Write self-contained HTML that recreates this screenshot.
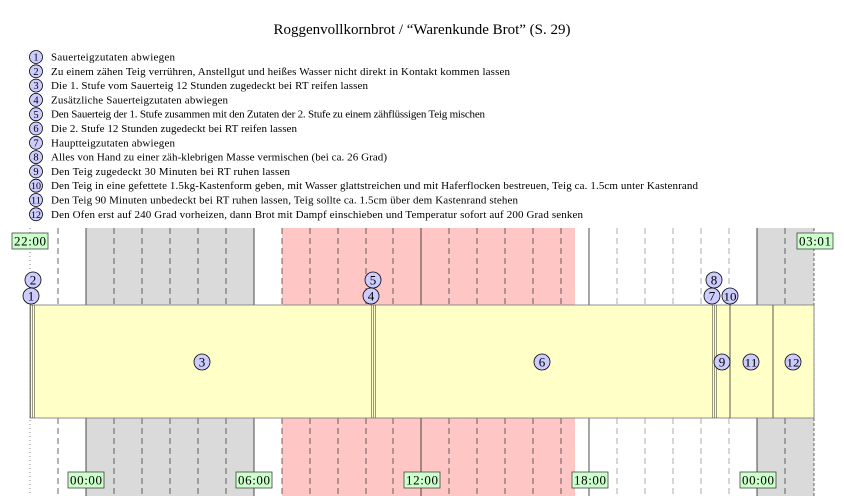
<!DOCTYPE html>
<html><head><meta charset="utf-8"><style>
body{margin:0;background:#fff}
svg{display:block}
text{font-family:"Liberation Serif",serif;fill:#000}
</style></head><body>
<svg width="844" height="496" viewBox="0 0 844 496" xmlns="http://www.w3.org/2000/svg">
<text x="422" y="34" font-size="15" text-anchor="middle">Roggenvollkornbrot / “Warenkunde Brot” (S. 29)</text>
<g font-size="11">
<g fill="#ccccff" stroke="#000" stroke-width="0.8">
<circle cx="36" cy="57" r="6.5"/><circle cx="36" cy="71.3" r="6.5"/><circle cx="36" cy="85.6" r="6.5"/><circle cx="36" cy="99.9" r="6.5"/><circle cx="36" cy="114.2" r="6.5"/><circle cx="36" cy="128.5" r="6.5"/><circle cx="36" cy="142.8" r="6.5"/><circle cx="36" cy="157.1" r="6.5"/><circle cx="36" cy="171.4" r="6.5"/><circle cx="36" cy="185.7" r="6.5"/><circle cx="36" cy="200" r="6.5"/><circle cx="36" cy="214.3" r="6.5"/>
</g>
<g text-anchor="middle" font-size="10.5">
<text x="36" y="60.6">1</text><text x="36" y="74.9">2</text><text x="36" y="89.2">3</text><text x="36" y="103.5">4</text><text x="36" y="117.8">5</text><text x="36" y="132.1">6</text><text x="36" y="146.4">7</text><text x="36" y="160.7">8</text><text x="36" y="175">9</text><text x="36" y="189.2" font-size="9" textLength="10" lengthAdjust="spacingAndGlyphs">10</text><text x="36" y="203.5" font-size="9" textLength="10" lengthAdjust="spacingAndGlyphs">11</text><text x="36" y="217.8" font-size="9" textLength="10" lengthAdjust="spacingAndGlyphs">12</text>
</g>
<text x="51" y="60.5" textLength="124">Sauerteigzutaten abwiegen</text>
<text x="51" y="74.8" textLength="459">Zu einem zähen Teig verrühren, Anstellgut und heißes Wasser nicht direkt in Kontakt kommen lassen</text>
<text x="51" y="89.1" textLength="317">Die 1. Stufe vom Sauerteig 12 Stunden zugedeckt bei RT reifen lassen</text>
<text x="51" y="103.4" textLength="177">Zusätzliche Sauerteigzutaten abwiegen</text>
<text x="51" y="117.7" textLength="434">Den Sauerteig der 1. Stufe zusammen mit den Zutaten der 2. Stufe zu einem zähflüssigen Teig mischen</text>
<text x="51" y="132" textLength="246">Die 2. Stufe 12 Stunden zugedeckt bei RT reifen lassen</text>
<text x="51" y="146.3" textLength="124">Hauptteigzutaten abwiegen</text>
<text x="51" y="160.6" textLength="336">Alles von Hand zu einer zäh-klebrigen Masse vermischen (bei ca. 26 Grad)</text>
<text x="51" y="174.9" textLength="239">Den Teig zugedeckt 30 Minuten bei RT ruhen lassen</text>
<text x="51" y="189.2" textLength="647">Den Teig in eine gefettete 1.5kg-Kastenform geben, mit Wasser glattstreichen und mit Haferflocken bestreuen, Teig ca. 1.5cm unter Kastenrand</text>
<text x="51" y="203.5" textLength="467">Den Teig 90 Minuten unbedeckt bei RT ruhen lassen, Teig sollte ca. 1.5cm über dem Kastenrand stehen</text>
<text x="51" y="217.8" textLength="532">Den Ofen erst auf 240 Grad vorheizen, dann Brot mit Dampf einschieben und Temperatur sofort auf 200 Grad senken</text>
</g>
<!-- backgrounds -->
<rect x="86" y="228" width="168" height="268" fill="#dadada"/>
<rect x="757" y="228" width="57" height="268" fill="#dadada"/>
<rect x="282" y="228" width="293" height="268" fill="#ffc6c6"/>
<!-- lines -->
<g stroke="#444" stroke-width="0.8" stroke-dasharray="6,4">
<line x1="58" y1="228" x2="58" y2="496"/><line x1="114" y1="228" x2="114" y2="496"/><line x1="142" y1="228" x2="142" y2="496"/><line x1="170" y1="228" x2="170" y2="496"/><line x1="198" y1="228" x2="198" y2="496"/><line x1="226" y1="228" x2="226" y2="496"/><line x1="282" y1="228" x2="282" y2="496"/><line x1="310" y1="228" x2="310" y2="496"/><line x1="338" y1="228" x2="338" y2="496"/><line x1="366" y1="228" x2="366" y2="496"/><line x1="393" y1="228" x2="393" y2="496"/><line x1="449" y1="228" x2="449" y2="496"/><line x1="477" y1="228" x2="477" y2="496"/><line x1="505" y1="228" x2="505" y2="496"/><line x1="533" y1="228" x2="533" y2="496"/><line x1="561" y1="228" x2="561" y2="496"/><line x1="617" y1="228" x2="617" y2="496" stroke="#999"/><line x1="645" y1="228" x2="645" y2="496" stroke="#999"/><line x1="673" y1="228" x2="673" y2="496" stroke="#999"/><line x1="701" y1="228" x2="701" y2="496" stroke="#999"/><line x1="729" y1="228" x2="729" y2="496" stroke="#999"/><line x1="785" y1="228" x2="785" y2="496"/><line x1="814" y1="228" x2="814" y2="496" stroke-dasharray="3,2"/>
</g>
<line x1="30" y1="228" x2="30" y2="496" stroke="#666" stroke-width="0.8" stroke-dasharray="1,3"/>
<g stroke="#222" stroke-width="0.8">
<line x1="86" y1="228" x2="86" y2="496"/><line x1="254" y1="228" x2="254" y2="496"/><line x1="421" y1="228" x2="421" y2="496"/><line x1="589" y1="228" x2="589" y2="496"/><line x1="757" y1="228" x2="757" y2="496"/>
</g>
<!-- bar -->
<rect x="30" y="305" width="784" height="113" fill="#ffffc8" stroke="#777" stroke-width="0.8"/>
<g stroke="#333" stroke-width="0.5">
<line x1="30.5" y1="305" x2="30.5" y2="418"/><line x1="32.5" y1="305" x2="32.5" y2="418"/><line x1="34.5" y1="305" x2="34.5" y2="418"/>
<line x1="371.5" y1="305" x2="371.5" y2="418"/><line x1="373.5" y1="305" x2="373.5" y2="418"/><line x1="375.5" y1="305" x2="375.5" y2="418"/>
<line x1="712.5" y1="305" x2="712.5" y2="418"/><line x1="714.5" y1="305" x2="714.5" y2="418"/><line x1="716.5" y1="305" x2="716.5" y2="418"/>
</g>
<g stroke="#333" stroke-width="0.8">
<line x1="730" y1="296" x2="730" y2="418"/><line x1="773" y1="305" x2="773" y2="418"/>
</g>
<!-- circles -->
<g fill="#ccccff" stroke="#000" stroke-width="0.8">
<circle cx="33" cy="280" r="8"/><circle cx="31" cy="296" r="8"/>
<circle cx="373" cy="280" r="8"/><circle cx="371" cy="296" r="8"/>
<circle cx="714" cy="280" r="8"/><circle cx="712" cy="296" r="8"/><circle cx="730" cy="296" r="8"/>
<circle cx="202" cy="362" r="8"/><circle cx="542" cy="362" r="8"/><circle cx="722" cy="362" r="8"/><circle cx="751" cy="362" r="8"/><circle cx="793" cy="362" r="8"/>
</g>
<g text-anchor="middle" font-size="13">
<text x="33" y="284.5">2</text><text x="31" y="300.5">1</text>
<text x="373" y="284.5">5</text><text x="371" y="300.5">4</text>
<text x="714" y="284.5">8</text><text x="712" y="300.5">7</text><text x="730" y="300.5" font-size="12" textLength="13" lengthAdjust="spacingAndGlyphs">10</text>
<text x="202" y="366.5">3</text><text x="542" y="366.5">6</text><text x="722" y="366.5">9</text><text x="751" y="366.5" font-size="12" textLength="13" lengthAdjust="spacingAndGlyphs">11</text><text x="793" y="366.5" font-size="12" textLength="13" lengthAdjust="spacingAndGlyphs">12</text>
</g>
<!-- time labels -->
<g fill="#ccffcc" stroke="#444" stroke-width="0.8">
<rect x="12" y="233" width="36" height="16"/><rect x="797" y="233" width="36" height="16"/>
<rect x="68" y="472" width="36" height="16"/><rect x="236" y="472" width="36" height="16"/><rect x="404" y="472" width="36" height="16"/><rect x="572" y="472" width="36" height="16"/><rect x="740" y="472" width="36" height="16"/>
</g>
<g text-anchor="middle" font-size="13">
<text x="30" y="245.5" textLength="32">22:00</text><text x="815" y="245.5" textLength="32">03:01</text>
<text x="86" y="484.5" textLength="32">00:00</text><text x="254" y="484.5" textLength="32">06:00</text><text x="422" y="484.5" textLength="32">12:00</text><text x="590" y="484.5" textLength="32">18:00</text><text x="758" y="484.5" textLength="32">00:00</text>
</g>
</svg>
</body></html>
